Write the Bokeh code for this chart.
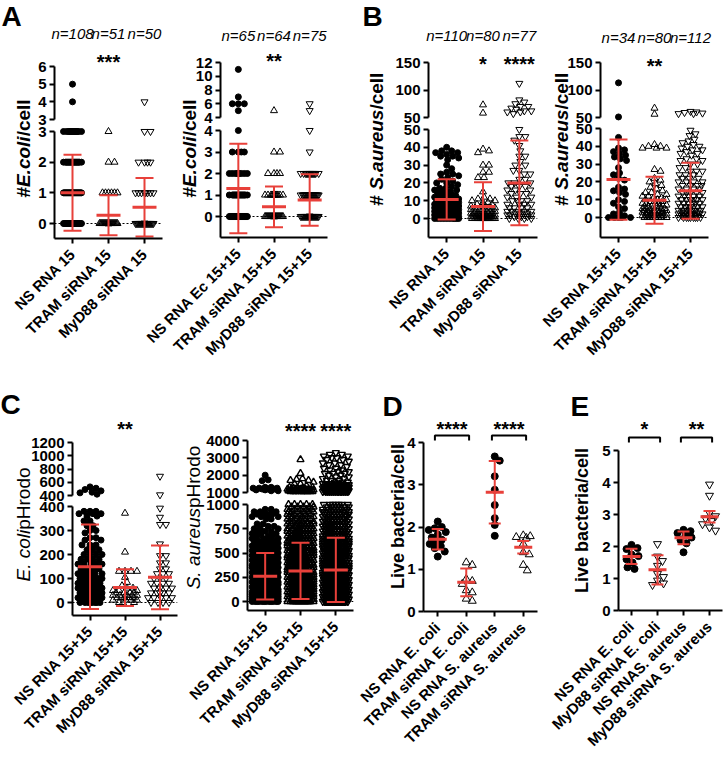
import math
import numpy as np

from bokeh.plotting import figure
from bokeh.layouts import column, row
from bokeh.models import Range1d, FixedTicker, Span
from bokeh.core.properties import value
from bokeh.embed import file_html
from bokeh.resources import INLINE

FONT = "Liberation Sans"
RED = "#e8403a"
PAGE_W, PAGE_H = 724, 766

# --------------------------------------------------------------
# DATA (dense groups given as value / count)
# --------------------------------------------------------------

# A  #E.coli/cell, 15 min
A1_CATS = ["NS RNA 15", "TRAM siRNA 15", "MyD88 siRNA 15"]
A1_N = ["n=108", "n=51", "n=50"]
A1_STARS = ["", "***", ""]
A1_NS_VALS = [0, 1, 2, 3, 4, 5]
A1_NS_CNT = [45, 30, 17, 14, 1, 1]
A1_TRAM_VALS = [0, 1, 2, 3]
A1_TRAM_CNT = [42, 6, 2, 1]
A1_MYD_VALS = [0, 1, 2, 3, 4]
A1_MYD_CNT = [35, 8, 4, 2, 1]
A1_MEAN = [1.0, 0.27, 0.53]
A1_SD = [1.24, 0.65, 0.95]

# A  #E.coli/cell, 15+15 min
A2_CATS = ["NS RNA Ec 15+15", "TRAM siRNA 15+15", "MyD88 siRNA 15+15"]
A2_N = ["n=65", "n=64", "n=75"]
A2_STARS = ["", "**", ""]
A2_NS_VALS = [0, 1, 2, 3, 4, 5, 6, 7, 11]
A2_NS_CNT = [29, 16, 9, 4, 1, 1, 3, 1, 1]
A2_TRAM_VALS = [0, 1, 2, 3, 5]
A2_TRAM_CNT = [45, 12, 4, 2, 1]
A2_MYD_VALS = [0, 1, 2, 3, 4, 5, 6]
A2_MYD_CNT = [39, 18, 14, 1, 1, 1, 1]
A2_MEAN = [1.3, 0.45, 0.77]
A2_SD = [2.08, 0.95, 1.2]

# B  # S.aureus /cell, 15 min
B1_CATS = ["NS RNA 15", "TRAM siRNA 15", "MyD88 siRNA 15"]
B1_N = ["n=110", "n=80", "n=77"]
B1_STARS = ["", "*", "****"]
B1_NS_VALS = [0, 1, 2, 3, 4, 5, 6, 7, 8, 9, 10, 11, 12, 13, 14, 15, 16, 17, 18, 19,
              20, 21, 22, 23, 24, 25, 26, 28, 30, 33, 34, 35, 36, 37, 38, 40]
B1_NS_CNT = [10, 8, 8, 7, 7, 6, 6, 5, 5, 4, 4, 3, 3, 3, 2, 2, 2, 2, 1, 1,
             2, 1, 1, 1, 1, 2, 1, 1, 1, 1, 1, 2, 1, 2, 2, 1]
B1_TRAM_VALS = [0, 1, 2, 3, 4, 5, 6, 7, 8, 9, 10, 11, 12, 15, 23, 26, 30, 37, 38, 39, 58, 73]
B1_TRAM_CNT = [18, 12, 8, 6, 5, 4, 3, 3, 2, 2, 2, 2, 1, 1, 2, 2, 2, 1, 1, 1, 1, 1]
B1_MYD_VALS = [0, 1, 2, 3, 4, 6, 8, 10, 12, 14, 16, 18, 20, 22, 25, 27, 30, 32, 35, 38,
               41, 44, 46, 50, 57, 60, 62, 65, 67, 70, 75, 78, 82, 112]
B1_MYD_CNT = [4, 3, 5, 3, 5, 4, 4, 4, 3, 3, 3, 3, 3, 2, 2, 2, 2, 1, 2, 1,
              1, 1, 2, 1, 1, 2, 2, 1, 1, 2, 1, 1, 1, 1]
B1_MEAN = [10.7, 6.7, 20.0]
B1_SD = [11.3, 13.7, 23.8]

# B  # S.aureus /cell, 15+15 min
B2_CATS = ["NS RNA 15+15", "TRAM siRNA 15+15", "MyD88 siRNA 15+15"]
B2_N = ["n=34", "n=80", "n=112"]
B2_STARS = ["", "**", ""]
B2_NS = [113, 51, 45, 39, 38, 37, 36, 35, 34, 33, 32, 28, 25, 24, 22, 21, 17, 16, 15,
         14, 13, 10, 9, 8, 6, 5, 3, 2, 1, 0, 0, 0, 0, 0]
B2_TRAM_VALS = [0, 1, 2, 3, 4, 5, 6, 7, 8, 9, 10, 11, 12, 13, 14, 15, 16, 17, 18, 19,
                20, 21, 22, 26, 27, 39, 40, 41, 56, 67]
B2_TRAM_CNT = [8, 8, 7, 5, 5, 5, 4, 3, 3, 3, 3, 2, 2, 2, 2, 1, 1, 1, 1, 1,
               1, 1, 1, 1, 1, 3, 2, 1, 1, 1]
B2_MYD_VALS = [0, 1, 2, 3, 4, 6, 8, 10, 12, 14, 16, 18, 20, 22, 24, 26, 28, 30, 32, 33,
               35, 36, 37, 38, 39, 40, 41, 42, 43, 44, 46, 47, 49, 57, 58, 59, 60, 61]
B2_MYD_CNT = [9, 4, 8, 3, 8, 7, 6, 6, 5, 5, 4, 4, 4, 3, 3, 3, 2, 2, 2, 2,
              1, 2, 1, 2, 1, 2, 1, 1, 1, 1, 1, 1, 1, 2, 1, 1, 1, 1]
B2_MEAN = [21.3, 9.7, 15.0]
B2_SD = [22.5, 13.2, 15.7]

# C  pHrodo signal
C_CATS = ["NS RNA 15+15", "TRAM siRNA 15+15", "MyD88 siRNA 15+15"]
C1_STARS = ["", "**", ""]
C1_NS_VALS = [0, 20, 40, 60, 80, 100, 120, 140, 160, 180, 200, 220, 240, 260, 270, 290,
              300, 320, 340, 360, 370, 380, 420, 440, 450, 470, 490, 510, 530]
C1_NS_CNT = [8, 10, 10, 9, 8, 8, 6, 6, 5, 5, 4, 3, 3, 2, 2, 1,
             2, 2, 2, 2, 3, 3, 1, 1, 1, 1, 1, 1, 1]
C1_TRAM_VALS = [0, 10, 20, 30, 40, 50, 60, 70, 84, 105, 130, 210, 372]
C1_TRAM_CNT = [3, 4, 5, 5, 4, 3, 2, 1, 1, 1, 4, 1, 1]
C1_MYD_VALS = [0, 20, 40, 60, 80, 100, 120, 140, 165, 195, 244, 325, 355, 393, 410, 690]
C1_MYD_CNT = [4, 5, 5, 4, 4, 3, 3, 2, 2, 2, 1, 2, 1, 1, 1, 1]
C1_MEAN = [149, 62, 105]
C1_SD = [176, 77, 133]

C2_STARS = ["", "****", "****"]
C2_NS_VALS = [0, 25, 50, 75, 100, 125, 150, 175, 200, 225, 250, 275, 300, 325, 350, 375,
              400, 425, 450, 475, 500, 525, 550, 575, 600, 625, 650, 675, 700, 725, 750,
              775, 800, 850, 875, 900, 925, 950, 1100, 1150, 1200, 1250, 1300, 1680, 1730, 2000]
C2_NS_CNT = [12, 12, 12, 12, 12, 11, 11, 11, 10, 10, 10, 9, 9, 8, 8, 7,
             7, 6, 6, 6, 5, 5, 5, 4, 4, 4, 4, 3, 3, 3, 3,
             2, 2, 2, 3, 4, 3, 2, 2, 2, 3, 3, 2, 1, 1, 1]
C2_TRAM_VALS = [0, 25, 50, 75, 100, 125, 150, 175, 200, 225, 250, 275, 300, 325, 350, 375,
                400, 425, 450, 475, 500, 525, 550, 575, 600, 625, 650, 675, 700, 725, 750,
                775, 800, 825, 850, 875, 900, 925, 950, 975, 1000,
                1050, 1100, 1150, 1200, 1250, 1300, 1400, 1500, 1600, 1700, 1750, 1800, 2100, 2900]
C2_TRAM_CNT = [22, 22, 22, 22, 22, 22, 22, 22, 22, 22, 22, 22, 20, 18, 18, 18,
               17, 17, 17, 16, 16, 16, 15, 15, 14, 10, 10, 10, 10, 9, 9,
               9, 8, 6, 6, 6, 6, 6, 5, 5, 5,
               10, 9, 7, 5, 3, 2, 1, 2, 1, 2, 1, 1, 1, 1]
C2_MYD_VALS = [0, 25, 50, 75, 100, 125, 150, 175, 200, 225, 250, 275, 300, 325, 350, 375,
               400, 425, 450, 475, 500, 525, 550, 575, 600, 625, 650, 675, 700, 725, 750,
               775, 800, 825, 850, 875, 900, 925, 950, 975, 1000,
               1050, 1100, 1150, 1200, 1250, 1300, 1350, 1400, 1450, 1500, 1600, 1700, 1800,
               1900, 2000, 2100, 2200, 2300, 2400, 2500, 2600, 2700, 2800, 2900, 3000, 3100,
               3200, 3300]
C2_MYD_CNT = [24, 24, 24, 24, 24, 24, 24, 24, 24, 24, 24, 24, 22, 20, 20, 19,
              19, 18, 18, 18, 17, 17, 16, 16, 15, 12, 12, 11, 11, 11, 10,
              10, 10, 8, 8, 8, 8, 8, 7, 7, 7,
              14, 12, 10, 9, 8, 7, 6, 5, 5, 4, 3, 3, 2,
              2, 2, 3, 2, 2, 2, 1, 2, 2, 1, 2, 2, 2,
              2, 1]
C2_MEAN = [260, 315, 326]
C2_SD = [240, 290, 331]

# D  live bacteria / cell (TRAM)
D_CATS = ["NS RNA E. coli", "TRAM siRNA E. coli", "NS RNA S. aureus", "TRAM siRNA S. aureus"]
D_NS_EC = [2.13, 2.0, 1.97, 1.93, 1.88, 1.82, 1.75, 1.7, 1.65, 1.6, 1.55, 1.5, 1.42, 1.3]
D_TRAM_EC = [1.16, 1.1, 0.77, 0.72, 0.65, 0.5, 0.45, 0.3, 0.25]
D_NS_SA = [3.67, 3.57, 3.2, 2.88, 2.52, 2.21, 2.05, 1.79]
D_TRAM_SA = [1.8, 1.78, 1.76, 1.74, 1.6, 1.4, 1.35, 1.1, 0.97]
D_MEAN = [1.71, 0.69, 2.82, 1.52]
D_SD = [0.24, 0.33, 0.74, 0.15]
D_PAIRS = [(0, 1, "****"), (2, 3, "****")]

# E  live bacteria / cell (MyD88)
E_CATS = ["NS RNA E. coli", "MyD88 siRNA E. coli", "NS RNAS. aureus", "MyD88 siRNA S. aureus"]
E_NS_EC = [2.05, 1.95, 1.92, 1.75, 1.7, 1.6, 1.5, 1.35, 1.3]
E_MYD_EC = [2.08, 1.69, 1.55, 1.4, 1.15, 1.05, 0.94, 0.85, 0.8]
E_NS_SA = [2.52, 2.48, 2.42, 2.35, 2.28, 2.2, 2.1, 1.82]
E_MYD_SA = [3.94, 3.59, 3.05, 2.95, 2.88, 2.8, 2.7, 2.6, 2.5]
E_MEAN = [1.69, 1.27, 2.27, 2.93]
E_SD = [0.24, 0.46, 0.2, 0.18]
E_PAIRS = [(0, 1, "*"), (2, 3, "**")]

# --------------------------------------------------------------
# HELPERS
# --------------------------------------------------------------

W_REG = {"#": 556, "E": 667, ".": 278, "c": 500, "o": 556, "l": 222, "i": 222, "/": 278,
         "e": 556, " ": 278, "S": 667, "a": 556, "u": 556, "r": 333, "s": 500, "p": 556,
         "H": 722, "d": 556, "L": 556, "v": 500, "b": 556, "t": 278}
W_BOLD = {"#": 556, "E": 667, ".": 278, "c": 556, "o": 611, "l": 278, "i": 278, "/": 278,
          "e": 556, " ": 278, "S": 667, "a": 556, "u": 611, "r": 389, "s": 556, "p": 611,
          "H": 722, "d": 611, "L": 611, "v": 556, "b": 611, "t": 333}


def text_width(s, size, bold):
    tab = W_BOLD if bold else W_REG
    return sum(tab.get(ch, 556) for ch in s) * size / 1000.0


def seg_map(v0, p0, v1, p1):
    k = (p0 - p1) / float(v1 - v0)
    return lambda v: p0 - (np.asarray(v, float) - v0) * k


def seg_range(seg, top, bottom):
    # y range so that value v0 sits at page pixel p0 and v1 at p1
    v0, p0, v1, p1 = seg
    k = (v1 - v0) / float(p0 - p1)
    return Range1d(start=v0 - (bottom - p0) * k, end=v1 + (p1 - top) * k)


def swarm(py, half, size):
    # simple deterministic beeswarm in pixel space
    py = np.asarray(py, float)
    order = np.argsort(py, kind="stable")
    cands = [0.0]
    for k in range(1, int(half) + 1):
        cands += [float(k), float(-k)]
    offs = np.zeros(len(py))
    done_x, done_y = [], []
    for i in order:
        y = py[i]
        j = len(done_y) - 1
        nx, ny = [], []
        while j >= 0 and y - done_y[j] < size:
            nx.append(done_x[j])
            ny.append(done_y[j])
            j -= 1
        nx = np.array(nx)
        ny = np.array(ny)
        best, bestd = 0.0, -1.0
        for c in cands:
            d = np.min(np.hypot(nx - c, ny - y)) if len(nx) else 1e9
            if d >= size:
                best = c
                break
            if d > bestd:
                best, bestd = c, d
        offs[i] = best
        done_x.append(best)
        done_y.append(y)
    return offs


def style_axis(ax, size="15px"):
    ax.axis_line_width = 2
    ax.axis_line_color = "black"
    ax.major_tick_line_width = 2
    ax.major_tick_line_color = "black"
    ax.major_tick_out = 5
    ax.major_tick_in = 0
    ax.minor_tick_line_color = None
    ax.major_label_text_font = FONT
    ax.major_label_text_font_style = "bold"
    ax.major_label_text_font_size = size
    ax.major_label_text_color = "black"


def make_fig(W, H, mbl, mbr, mbt, mbb, n, yr):
    p = figure(width=W, height=H, x_range=Range1d(-0.5, n - 0.5), y_range=yr,
               output_backend="svg", toolbar_location=None,
               min_border_left=mbl, min_border_right=mbr,
               min_border_top=mbt, min_border_bottom=mbb,
               outline_line_color=None, background_fill_color=None,
               border_fill_color=None)
    p.xgrid.visible = False
    p.ygrid.visible = False
    return p


def star_text(p, xs, ys, texts):
    p.text(x=xs, y=ys, text=texts, y_range_name="ann",
           text_font=value(FONT), text_font_style="bold", text_font_size="20px",
           text_align="center", text_baseline="alphabetic", text_color="black")


# text layer covering the whole page (letters, y titles, n= labels)
ov = figure(width=PAGE_W, height=PAGE_H, x_range=Range1d(0, PAGE_W), y_range=Range1d(0, PAGE_H),
            output_backend="svg", toolbar_location=None, min_border=0,
            outline_line_color=None, background_fill_color=None, border_fill_color=None)
ov.axis.visible = False
ov.grid.visible = False


def panel(cats, groups, markers, means, sds, geo, lower, lo_ticks, upper=None, up_ticks=None,
          nlabels=None, ny=None, stars=None, sy=None, pairs=None, by=None,
          msize=6, half=10, mean_half=12, cap_half=9, dotted=True, open_lw=1.0):
    # geo: canvas left, left border, frame width, right border,
    #      canvas top, frame top, x-axis line, canvas bottom (page pixels)
    x0, mbl, fw, mbr, ctop, ftop, bottom, cbot = geo
    W = mbl + fw + mbr
    n = len(cats)
    ppx = fw / float(n)
    if upper:
        up_bot = upper[1] + 8
        lo_top = lower[3] - 8
        U = make_fig(W, up_bot - ctop, mbl, mbr, ftop - ctop, 0, n, seg_range(upper, ftop, up_bot))
        U.extra_y_ranges = {"ann": Range1d(start=up_bot, end=ftop)}
        U.xaxis.visible = False
        ua = U.yaxis[0]
        ua.ticker = FixedTicker(ticks=up_ticks)
        ua.bounds = (upper[0], upper[2])
        ua.major_label_standoff = 3
        style_axis(ua)
        yr = seg_range(lower, lo_top, bottom)
        L = make_fig(W, cbot - lo_top, mbl, mbr, 0, cbot - bottom, n, yr)
        ann = U
        out = [(U, x0, ctop), (L, x0, lo_top)]
    else:
        yr = seg_range(lower, ftop, bottom)
        L = make_fig(W, cbot - ctop, mbl, mbr, ftop - ctop, cbot - bottom, n, yr)
        L.extra_y_ranges = {"ann": Range1d(start=bottom, end=ftop)}
        ann = L
        out = [(L, x0, ctop)]

    if dotted:
        L.add_layout(Span(location=0, dimension="width", line_color="black",
                          line_width=1.2, line_dash="2 2", level="underlay"))

    lo_map = seg_map(*lower)
    up_map = seg_map(*upper) if upper else None
    for i, (vals, mk) in enumerate(zip(groups, markers)):
        vals = np.asarray(vals, float)
        is_up = vals > lower[2] if upper else np.zeros(len(vals), bool)
        py = lo_map(vals)
        if upper:
            py = np.where(is_up, up_map(vals), py)
        xs = i + swarm(py, half, msize * 0.9) / ppx
        filled = mk == "circle"
        # open symbols are drawn unfilled so that crowded ones read dark
        st = dict(marker=mk, size=msize if filled else msize + 1, line_color="black",
                  line_width=1 if filled else open_lw,
                  fill_color="black" if filled else None)
        lo = ~is_up
        L.scatter(xs[lo], vals[lo], **st)
        if is_up.any():
            U.scatter(xs[is_up], vals[is_up], **st)

    # mean +/- SD in red
    xc = np.arange(n, dtype=float)
    m = np.asarray(means, float)
    s = np.asarray(sds, float)
    ch = cap_half / ppx
    mh = mean_half / ppx
    L.segment(xc, m - s, xc, m + s, line_color=RED, line_width=2)
    L.segment(xc - ch, m + s, xc + ch, m + s, line_color=RED, line_width=2)
    L.segment(xc - ch, m - s, xc + ch, m - s, line_color=RED, line_width=2)
    L.segment(xc - mh, m, xc + mh, m, line_color=RED, line_width=3)

    ax = L.yaxis[0]
    ax.ticker = FixedTicker(ticks=lo_ticks)
    ax.bounds = (yr.start, lower[2])
    ax.major_label_standoff = 3
    style_axis(ax)
    xa = L.xaxis[0]
    xa.ticker = FixedTicker(ticks=list(range(n)))
    xa.major_label_overrides = {i: c for i, c in enumerate(cats)}
    xa.major_label_orientation = math.pi / 4
    xa.major_label_standoff = 8
    style_axis(xa, "15px")

    if nlabels:
        # drawn on the page layer so that they are not clipped by the frame
        ov.text(x=x0 + mbl + (xc + 0.5) * ppx, y=[PAGE_H - ny] * n, text=nlabels,
                text_font=value(FONT), text_font_style="italic", text_font_size="15px",
                text_align="center", text_baseline="middle", text_color="black")
    if stars:
        star_text(ann, xc, [sy + 3] * n, stars)
    if pairs:
        for a, b, lab in pairs:
            ann.multi_line(xs=[[a - 0.1, a - 0.1, b + 0.1, b + 0.1]],
                           ys=[[by + 5, by, by, by + 5]], y_range_name="ann",
                           line_color="black", line_width=2)
            star_text(ann, [(a + b) / 2.0], [sy + 3], [lab])
    return out


MK3 = ["circle", "triangle", "inverted_triangle"]

# --------------------------------------------------------------
# PANELS  (geometry in page pixels)
# --------------------------------------------------------------

items = []
items += panel(A1_CATS,
               [np.repeat(A1_NS_VALS, A1_NS_CNT), np.repeat(A1_TRAM_VALS, A1_TRAM_CNT),
                np.repeat(A1_MYD_VALS, A1_MYD_CNT)],
               MK3, A1_MEAN, A1_SD, (0, 54, 108, 8, 0, 24, 238, 398),
               (0, 223, 3, 131), [0, 1, 2, 3], (3, 119, 6, 66), [3, 4, 5, 6],
               nlabels=A1_N, ny=33, stars=A1_STARS, sy=58, half=9)
items += panel(A2_CATS,
               [np.repeat(A2_NS_VALS, A2_NS_CNT), np.repeat(A2_TRAM_VALS, A2_TRAM_CNT),
                np.repeat(A2_MYD_VALS, A2_MYD_CNT)],
               MK3, A2_MEAN, A2_SD, (126, 94, 107, 8, 0, 24, 237, 398),
               (0, 216, 4, 130), [0, 1, 2, 3, 4], (4, 117, 12, 62), [4, 6, 8, 10, 12],
               nlabels=A2_N, ny=35, stars=A2_STARS, sy=57, half=9)
items += panel(B1_CATS,
               [np.repeat(B1_NS_VALS, B1_NS_CNT), np.repeat(B1_TRAM_VALS, B1_TRAM_CNT),
                np.repeat(B1_MYD_VALS, B1_MYD_CNT)],
               MK3, B1_MEAN, B1_SD, (358, 70, 109, 8, 0, 24, 237, 398),
               (0, 218, 50, 129), [0, 10, 20, 30, 40, 50], (50, 117, 150, 62), [50, 100, 150],
               nlabels=B1_N, ny=35, stars=B1_STARS, sy=60, half=12)
items += panel(B2_CATS,
               [B2_NS, np.repeat(B2_TRAM_VALS, B2_TRAM_CNT), np.repeat(B2_MYD_VALS, B2_MYD_CNT)],
               MK3, B2_MEAN, B2_SD, (528, 72, 108, 10, 0, 24, 237, 398),
               (0, 217, 50, 128), [0, 10, 20, 30, 40, 50], (50, 117, 150, 62), [50, 100, 150],
               nlabels=B2_N, ny=37, stars=B2_STARS, sy=62, half=12)
items += panel(C_CATS,
               [np.repeat(C1_NS_VALS, C1_NS_CNT), np.repeat(C1_TRAM_VALS, C1_TRAM_CNT),
                np.repeat(C1_MYD_VALS, C1_MYD_CNT)],
               MK3, C1_MEAN, C1_SD, (0, 72, 105, 6, 382, 410, 615, PAGE_H),
               (0, 602, 400, 506), [0, 100, 200, 300, 400], (400, 495, 1200, 442),
               [400, 600, 800, 1000, 1200], stars=C1_STARS, sy=425, half=12)
items += panel(C_CATS,
               [np.repeat(C2_NS_VALS, C2_NS_CNT), np.repeat(C2_TRAM_VALS, C2_TRAM_CNT),
                np.repeat(C2_MYD_VALS, C2_MYD_CNT)],
               MK3, C2_MEAN, C2_SD, (175, 72, 106, 6, 382, 410, 610, PAGE_H),
               (0, 601, 1000, 504), [0, 250, 500, 750, 1000], (1000, 492, 4000, 440),
               [1000, 2000, 3000, 4000], stars=C2_STARS, sy=427, half=13, open_lw=1.4)
items += panel(D_CATS, [D_NS_EC, D_TRAM_EC, D_NS_SA, D_TRAM_SA],
               ["circle", "triangle", "circle", "triangle"], D_MEAN, D_SD,
               (335, 88, 114, 8, 382, 410, 611, PAGE_H), (0, 611, 4, 442), [0, 1, 2, 3, 4],
               pairs=D_PAIRS, by=435, sy=425, dotted=False, msize=7, half=9,
               mean_half=9, cap_half=6)
items += panel(E_CATS, [E_NS_EC, E_MYD_EC, E_NS_SA, E_MYD_SA],
               ["circle", "inverted_triangle", "circle", "inverted_triangle"], E_MEAN, E_SD,
               (520, 98, 104, 2, 382, 410, 610, PAGE_H), (0, 610, 5, 450), [0, 1, 2, 3, 4, 5],
               pairs=E_PAIRS, by=437, sy=425, dotted=False, msize=7, half=9,
               mean_half=9, cap_half=6)

# --------------------------------------------------------------
# PANEL LETTERS AND ROTATED Y-AXIS TITLES
# --------------------------------------------------------------

LETTERS = ["A", "B", "C", "D", "E"]
LETTER_X = [1, 362, 0, 382, 570]
LETTER_Y = [0, 0, 388, 390, 390]
ov.text(x=LETTER_X, y=[PAGE_H - y for y in LETTER_Y], text=LETTERS,
        text_font=value(FONT), text_font_style="bold", text_font_size="28px",
        text_align="left", text_baseline="top", text_color="black")

YL_EC = [("#", True, False), ("E.coli", True, True), ("/cell", True, False)]
YL_SA = [("# ", True, False), ("S.aureus", True, True), (" /cell", True, False)]
YL_CE = [("E. coli", False, True), ("pHrodo", False, False)]
YL_CS = [("S. aureus", False, True), ("pHrodo", False, False)]
YL_LIVE = [("Live bacteria/cell", True, False)]
YLABELS = [(YL_EC, 23, 148, 19), (YL_EC, 189, 148, 19), (YL_SA, 376, 136, 19),
           (YL_SA, 561, 136, 19), (YL_CE, 23, 524, 19), (YL_CS, 193, 517, 19),
           (YL_LIVE, 397, 516, 18), (YL_LIVE, 581, 520, 18)]
for segs, cx, cy, size in YLABELS:
    total = sum(text_width(t, size, b) for t, b, it in segs)
    cur = PAGE_H - (cy + total / 2.0)
    for t, b, it in segs:
        fs = "bold italic" if (b and it) else "bold" if b else "italic" if it else "normal"
        ov.text(x=[cx], y=[cur], text=[t], angle=math.pi / 2, text_font=value(FONT),
                text_font_style=fs, text_font_size=f"{size}px", text_align="left",
                text_baseline="middle", text_color="black")
        cur += text_width(t, size, b)

# --------------------------------------------------------------
# PLACE EVERY FIGURE AT ITS PAGE POSITION
# (each plot sits in its own row so frames are not aligned to each other)
# --------------------------------------------------------------

placed = [(ov, 0, 0)] + items
flow = 0
children = []
for fig, x, y in placed:
    wrap = row(fig)
    wrap.margin = (int(round(y - flow)), 0, 0, int(x))
    flow = y + fig.height
    children.append(wrap)

layout = column(children)

open("out.html", "w").write(file_html(layout, INLINE))
